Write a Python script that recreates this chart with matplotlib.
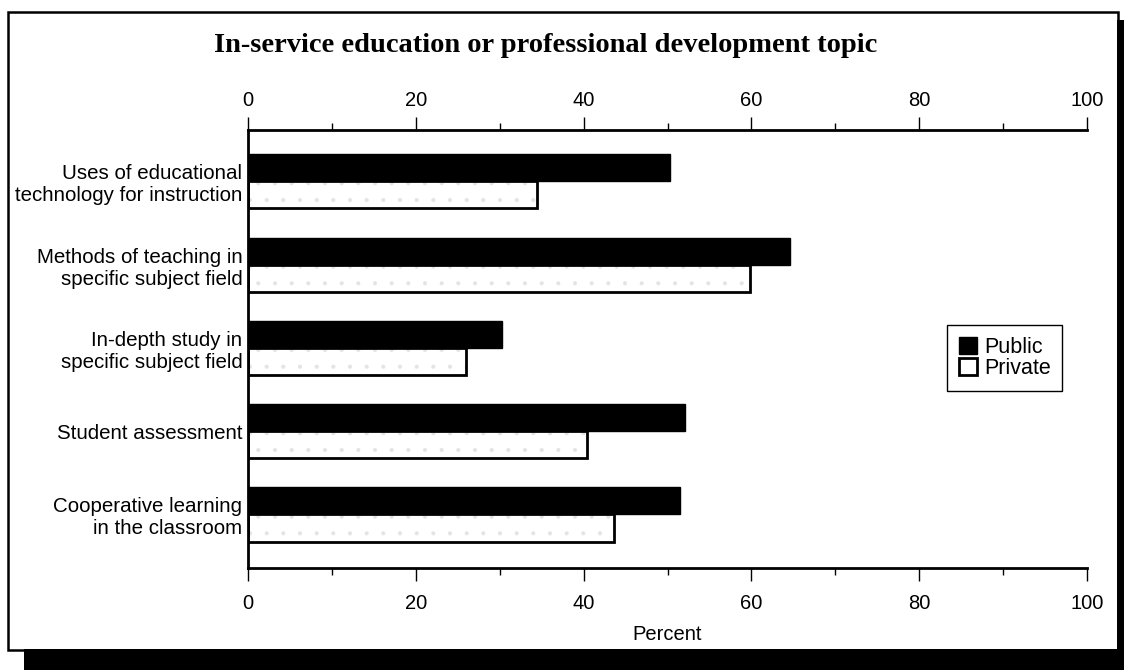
import matplotlib
matplotlib.use("Agg")
import matplotlib.pyplot as plt
from matplotlib.patches import Patch, Rectangle
from matplotlib.ticker import MultipleLocator
import numpy as np

# data
topics = ["Uses of educational\ntechnology for instruction",
          "Methods of teaching in\nspecific subject field",
          "In-depth study in\nspecific subject field",
          "Student assessment",
          "Cooperative learning\nin the classroom"]
public = [50.3, 64.6, 30.3, 52.1, 51.5]
private = [34.4, 59.8, 26.0, 40.4, 43.6]

plt.rcParams['font.family'] = ['Liberation Sans', 'DejaVu Sans']
plt.rcParams['hatch.linewidth'] = 0.5

W, H = 1124, 670
fig = plt.figure(figsize=(W / 100, H / 100), dpi=100)

# frame with drop shadow
fig.add_artist(Rectangle((24 / W, 0), 1100 / W, 21 / H, transform=fig.transFigure,
                         facecolor='black', edgecolor='none'))
fig.add_artist(Rectangle((1117 / W, 0), 7 / W, 650 / H, transform=fig.transFigure,
                         facecolor='black', edgecolor='none'))
fig.add_artist(Rectangle((8 / W, 20 / H), 1110 / W, 638 / H, transform=fig.transFigure,
                         facecolor='none', edgecolor='black', linewidth=1.8))

ax = fig.add_axes([248 / W, 1 - 568 / H, 839 / W, 438 / H])

y = np.arange(len(topics))
bh = 0.325
ax.barh(y - bh / 2, public, bh, color='black', edgecolor='black', linewidth=1)
ax.barh(y + bh / 2, private, bh, color='white', edgecolor='#e4e4e4', hatch='.', linewidth=0)
ax.barh(y + bh / 2, private, bh, fill=False, edgecolor='black', linewidth=2)

ax.set_xlim(0, 100)
ax.set_ylim(4.643, -0.616)
ax.set_yticks(y)
ax.set_yticklabels(topics, fontsize=14.8, linespacing=1.2)
ax.tick_params(axis='y', length=0, pad=4)

ax.xaxis.set_major_locator(MultipleLocator(20))
ax.xaxis.set_minor_locator(MultipleLocator(10))
ax.tick_params(axis='x', which='major', length=9.5, width=1, pad=9, labelsize=14.5)
ax.tick_params(axis='x', which='minor', length=5, width=1)
ax.set_xlabel("Percent", fontsize=14.5, labelpad=9)

for s in ['right', 'top']:
    ax.spines[s].set_visible(False)
for s in ['left', 'bottom']:
    ax.spines[s].set_linewidth(2)

top = ax.secondary_xaxis('top')
top.xaxis.set_major_locator(MultipleLocator(20))
top.xaxis.set_minor_locator(MultipleLocator(10))
top.tick_params(which='major', length=9.5, width=1, pad=5, labelsize=14.5)
top.tick_params(which='minor', length=5, width=1)
top.spines['top'].set_linewidth(2)

handles = [Patch(facecolor='black', edgecolor='black'),
           Patch(facecolor='white', edgecolor='black', linewidth=2)]
leg = ax.legend(handles, ["Public", "Private"], loc='center', bbox_to_anchor=(0.902, 0.479),
                fontsize=15.5, frameon=True, fancybox=False, edgecolor='black',
                framealpha=1, handlelength=0.85, handleheight=0.85, handletextpad=0.3,
                labelspacing=0.0, borderpad=0.55)
leg.get_frame().set_linewidth(1)

fig.text(546 / W, 1 - 45 / H, "In-service education or professional development topic",
         ha='center', va='center', family='Liberation Serif', weight='bold', fontsize=20.5)

fig.savefig("out.png", dpi=100)
